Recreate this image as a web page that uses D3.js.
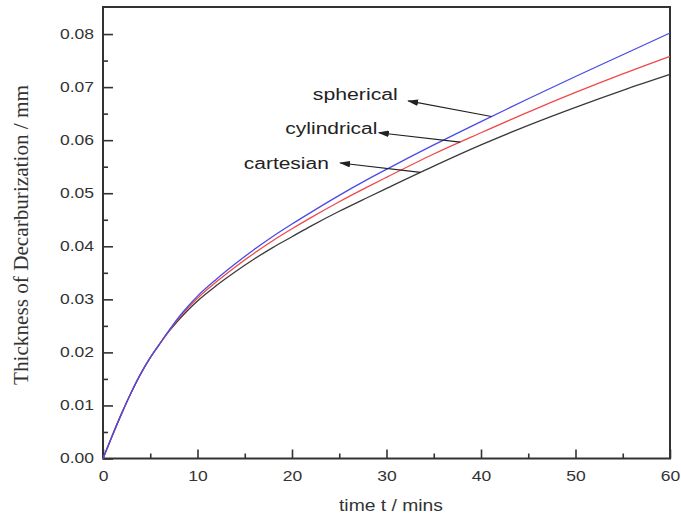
<!DOCTYPE html>
<html>
<head>
<meta charset="utf-8">
<script src="https://cdn.jsdelivr.net/npm/d3@7"></script>
<style>
  body { margin: 0; background: #fff; }
  svg { display: block; }
</style>
</head>
<body>
<div id="chart"></div>
<script>
// time in minutes
var times = [0, 1, 2, 3, 4, 5, 6, 7, 8, 9, 10, 12, 14, 16, 18, 20, 22, 25, 28, 30, 35, 40, 45, 50, 55, 60];
var cartesian = [0, .0044, .0086, .0125, .0160, .0190, .0216, .0240, .0261, .0280, .0297, .0326, .0352, .0376, .0398, .0418, .0438, .0466, .0492, .0509, .0551, .0591, .0628, .0662, .0694, .0724];
var cylindrical = [0, .0044, .0086, .0125, .0160, .0190, .0216, .0241, .0264, .0284, .0302, .0333, .0361, .0387, .0411, .0433, .0454, .0484, .0512, .0530, .0574, .0614, .0653, .0690, .0725, .0758];
var spherical = [0, .0044, .0086, .0125, .0160, .0190, .0216, .0242, .0266, .0287, .0306, .0338, .0367, .0394, .0419, .0442, .0464, .0496, .0526, .0545, .0591, .0635, .0678, .0720, .0761, .0802];
var xTicks = [0, 10, 20, 30, 40, 50, 60];
var yTicks = [0, .01, .02, .03, .04, .05, .06, .07, .08];

var series = [
  { name: 'cartesian', values: cartesian, color: '#3a3a3a' },
  { name: 'cylindrical', values: cylindrical, color: '#f04848' },
  { name: 'spherical', values: spherical, color: '#4a4ae8' }
];

// label, series, t on the curve, arrow tip (t, value), text pos (t, value), text width
var notes = [
  ['spherical', spherical, 41.1, 32.3, .0674, 22.2, .0675, 85],
  ['cylindrical', cylindrical, 37.8, 29.2, .0614, 19.3, .0612, 92],
  ['cartesian', cartesian, 33.6, 25.1, .0557, 14.9, .0546, 85]
];

var svgWidth = 681, svgHeight = 518,
  margin = { top: 7, right: 11, bottom: 59.5, left: 103 };
var width = svgWidth - margin.left - margin.right;
var height = svgHeight - margin.top - margin.bottom;

var svg = d3.select('#chart').append('svg')
  .attr('width', svgWidth)
  .attr('height', svgHeight);

svg.append('defs').append('marker')
  .attr('id', 'arrow')
  .attr('viewBox', '0 0 10 6')
  .attr('refX', 9).attr('refY', 3)
  .attr('markerWidth', 11).attr('markerHeight', 6.6)
  .attr('markerUnits', 'userSpaceOnUse')
  .attr('orient', 'auto')
  .append('path')
  .attr('d', 'M0,0 L10,3 L0,6 z')
  .attr('fill', '#222');

var g = svg.append('g')
  .attr('transform', 'translate(' + margin.left + ',' + margin.top + ')');

var x = d3.scaleLinear().domain([0, 60]).range([0, width]);
var y = d3.scaleLinear().domain([0, 0.0851]).range([height, 0]);

// widen text like the stretched original
function stretch(sel, k) {
  sel.each(function () {
    var w = this.getComputedTextLength();
    d3.select(this).attr('textLength', w * k).attr('lengthAdjust', 'spacingAndGlyphs');
  });
}

var fontSans = 'Liberation Sans, Arial, sans-serif';

// minor ticks
g.append('g')
  .attr('transform', 'translate(0,' + height + ')')
  .call(d3.axisBottom(x).tickValues(d3.range(5, 60, 10)).tickSize(-5).tickFormat(''))
  .call(function (a) { a.select('.domain').remove(); });
g.append('g')
  .call(d3.axisLeft(y).tickValues(d3.range(0.005, 0.08, 0.01)).tickSize(-5).tickFormat(''))
  .call(function (a) { a.select('.domain').remove(); });

var xAxis = g.append('g')
  .attr('transform', 'translate(0,' + height + ')')
  .call(d3.axisBottom(x).tickValues(xTicks).tickSize(-9).tickPadding(13).tickFormat(d3.format('d')));
xAxis.select('.domain').remove();

var yAxis = g.append('g')
  .call(d3.axisLeft(y).tickValues(yTicks).tickSize(-10).tickPadding(9).tickFormat(d3.format('.2f')));
yAxis.select('.domain').remove();

g.selectAll('.tick line').attr('stroke', '#333').attr('stroke-width', 1.6);
g.selectAll('.tick text')
  .attr('font-family', fontSans)
  .attr('font-size', 14)
  .attr('fill', '#333');
xAxis.selectAll('.tick text').attr('dy', '0.71em');
stretch(g.selectAll('.tick text'), 1.25);

// frame
g.append('rect')
  .attr('width', width)
  .attr('height', height)
  .attr('fill', 'none')
  .attr('stroke', '#333')
  .attr('stroke-width', 2);

var line = d3.line()
  .x(function (d) { return x(d[0]); })
  .y(function (d) { return y(d[1]); })
  .curve(d3.curveMonotoneX);

series.forEach(function (s) {
  g.append('path')
    .datum(times.map(function (t, i) { return [t, s.values[i]]; }))
    .attr('fill', 'none')
    .attr('stroke', s.color)
    .attr('stroke-width', 1.3)
    .attr('d', line);
});

function valueAt(vals, t) {
  return d3.scaleLinear().domain(times).range(vals)(t);
}

notes.forEach(function (n) {
  g.append('line')
    .attr('x1', x(n[2])).attr('y1', y(valueAt(n[1], n[2])))
    .attr('x2', x(n[3])).attr('y2', y(n[4]))
    .attr('stroke', '#222')
    .attr('stroke-width', 1.1)
    .attr('marker-end', 'url(#arrow)');
  g.append('text')
    .attr('x', x(n[5])).attr('y', y(n[6]))
    .attr('font-family', fontSans)
    .attr('font-size', 16)
    .attr('fill', '#222')
    .attr('textLength', n[7])
    .attr('lengthAdjust', 'spacingAndGlyphs')
    .text(n[0]);
});

// axis titles
svg.append('text')
  .attr('x', 391).attr('y', 511)
  .attr('text-anchor', 'middle')
  .attr('font-family', fontSans)
  .attr('font-size', 16)
  .attr('fill', '#333')
  .attr('textLength', 104)
  .attr('lengthAdjust', 'spacingAndGlyphs')
  .text('time t / mins');

svg.append('text')
  .attr('transform', 'translate(28,235) rotate(-90)')
  .attr('text-anchor', 'middle')
  .attr('font-family', 'Liberation Serif, Times New Roman, serif')
  .attr('font-size', 20)
  .attr('fill', '#333')
  .attr('textLength', 300)
  .attr('lengthAdjust', 'spacingAndGlyphs')
  .text('Thickness of Decarburization / mm');
</script>
</body>
</html>
